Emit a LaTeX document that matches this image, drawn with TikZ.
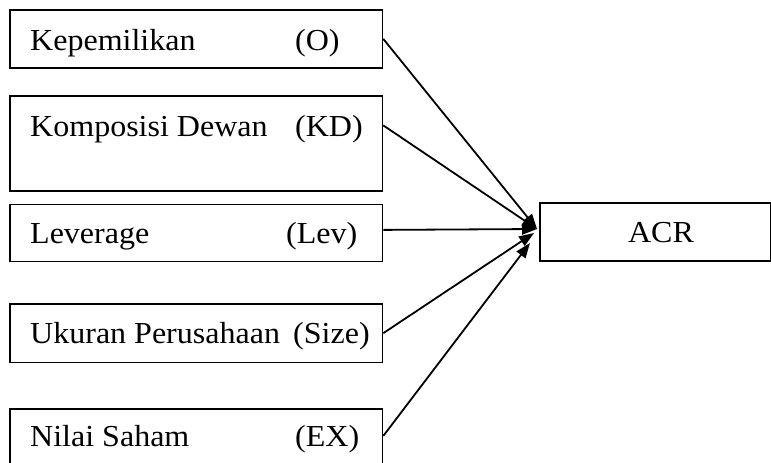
\documentclass[tikz,border=0pt]{standalone}
\usepackage{fontspec}
\setmainfont{Liberation Serif}[FakeStretch=1.05]
\usetikzlibrary{arrows.meta}
\begin{document}
\begin{tikzpicture}[x=1pt,y=-1pt,
  box/.style={draw, line width=1.8pt, rectangle, inner sep=0pt, anchor=north west},
  lbl/.style={anchor=base west, inner sep=0pt, font=\fontsize{30.5}{34}\selectfont},
  link/.style={line width=1.8pt, -{Triangle[length=15pt,width=11pt]}}]
\useasboundingbox (0,0) rectangle (771,463);
\clip (0,0) rectangle (771,463);

% variable boxes
\node[box, minimum width=372.5pt, minimum height=58pt] (o)   at (9,9)   {};
\node[box, minimum width=372.5pt, minimum height=95pt] (kd)  at (9,95)  {};
\node[box, minimum width=372.5pt, minimum height=57pt] (lev) at (9,203.5) {};
\node[box, minimum width=372.5pt, minimum height=58.5pt] (sz) at (9,303) {};
\node[box, minimum width=372.5pt, minimum height=70pt] (ex)  at (9,408) {};

% dependent variable
\node[box, minimum width=231pt, minimum height=58pt] (acr) at (539.3,202.3) {};

% labels
\node[lbl] (t1)  at (30,50)    {Kepemilikan};
\node[lbl] (t1b) at (295,50)   {(O)};
\node[lbl] (t2)  at (30,136.7) {Komposisi Dewan};
\node[lbl] (t2b) at (295,136.7){(KD)};
\node[lbl] (t3)  at (30,243.3) {Leverage};
\node[lbl] (t3b) at (286,243.3){(Lev)};
\node[lbl] (t4)  at (30,343.3) {Ukuran Perusahaan};
\node[lbl] (t4b) at (293,343.3){(Size)};
\node[lbl] (t5)  at (30,446.7) {Nilai Saham};
\node[lbl] (t5b) at (295,446.7){(EX)};
\node[anchor=base, inner sep=0pt, font=\fontsize{30.5}{34}\selectfont] (t6) at (661,242.3) {ACR};

% arrow end points at the ACR box
\coordinate (tipA) at (537,229);
\coordinate (tipS) at (534,233);
\coordinate (tipE) at (530,243);

% connectors
\draw[link] (o.east) -- (tipA);
\draw[link] ([yshift=18pt]kd.east) -- (tipA);
\draw[link] ([yshift=3pt]lev.east) -- (tipA);
\draw[link] (sz.east) -- (tipS);
\draw[link] ([yshift=8pt]ex.east) -- (tipE);
\end{tikzpicture}
\end{document}
